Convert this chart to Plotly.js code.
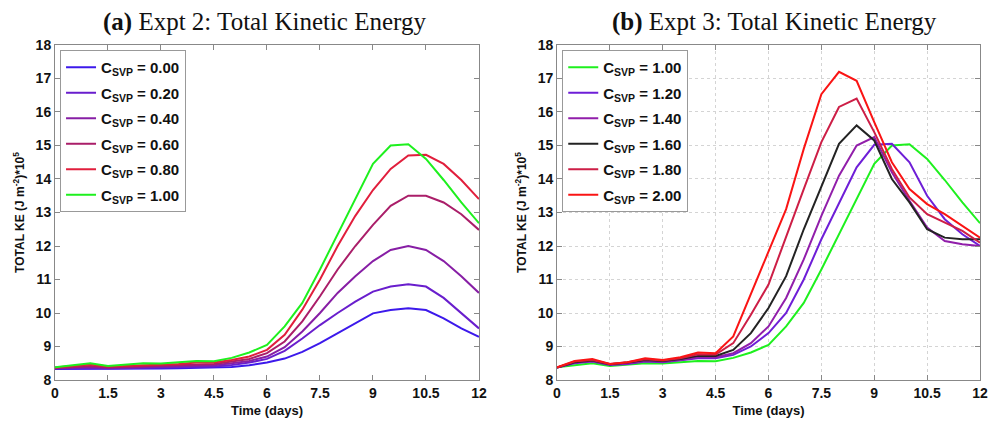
<!DOCTYPE html>
<html>
<head>
<meta charset="utf-8">
<script src="https://cdn.plot.ly/plotly-3.0.1.min.js"></script>
<style>html,body{margin:0;padding:0;background:#fff;}#chart{width:989px;height:422px;}</style>
</head>
<body>
<div id="chart"></div>
<script>
// time in days (every 0.5 day)
const timeDays = [0,0.5,1,1.5,2,2.5,3,3.5,4,4.5,5,5.5,6,6.5,7,7.5,8,8.5,9,9.5,10,10.5,11,11.5,12];
const xTickVals = [0,1.5,3,4.5,6,7.5,9,10.5,12];
const xTickText = ["0","1.5","3","4.5","6","7.5","9","10.5","12"];
const yTickVals = [8,9,10,11,12,13,14,15,16,17,18];

// Expt 2 (panel a)
const labelsA = ["0.00","0.20","0.40","0.60","0.80","1.00"];
const keA_000 = [8.33,8.33,8.34,8.32,8.33,8.33,8.34,8.35,8.36,8.37,8.39,8.44,8.52,8.64,8.84,9.1,9.4,9.69,9.99,10.09,10.14,10.09,9.84,9.54,9.29];
const keA_020 = [8.34,8.35,8.36,8.34,8.35,8.35,8.36,8.37,8.38,8.4,8.45,8.52,8.63,8.87,9.24,9.64,10.0,10.34,10.64,10.79,10.86,10.79,10.45,9.99,9.54];
const keA_040 = [8.35,8.37,8.39,8.36,8.37,8.38,8.39,8.4,8.42,8.44,8.5,8.57,8.7,8.98,9.45,10.0,10.6,11.1,11.55,11.88,12.0,11.88,11.55,11.1,10.6];
const keA_060 = [8.36,8.4,8.42,8.38,8.4,8.42,8.42,8.44,8.47,8.48,8.55,8.63,8.8,9.15,9.75,10.5,11.3,12.0,12.63,13.2,13.5,13.5,13.3,12.95,12.48];
const keA_080 = [8.37,8.42,8.46,8.4,8.42,8.45,8.45,8.48,8.52,8.52,8.6,8.7,8.9,9.35,10.1,11.0,12.0,12.9,13.67,14.3,14.7,14.72,14.45,13.97,13.4];
const keA_100 = [8.38,8.45,8.5,8.42,8.45,8.5,8.49,8.52,8.57,8.56,8.66,8.82,9.05,9.6,10.3,11.3,12.35,13.4,14.45,15.0,15.04,14.6,13.97,13.3,12.68];

// Expt 3 (panel b)
const labelsB = ["1.00","1.20","1.40","1.60","1.80","2.00"];
const keB_100 = keA_100;
const keB_120 = [8.37,8.5,8.55,8.45,8.48,8.55,8.53,8.58,8.65,8.65,8.75,9.0,9.4,10.0,11.0,12.2,13.3,14.35,15.02,15.05,14.5,13.5,12.8,12.35,12.0];
const keB_140 = [8.37,8.52,8.57,8.46,8.5,8.57,8.55,8.6,8.68,8.68,8.8,9.1,9.6,10.45,11.6,12.9,14.1,15.0,15.25,14.2,13.35,12.55,12.15,12.05,12.0];
const keB_160 = [8.37,8.53,8.58,8.47,8.52,8.6,8.57,8.63,8.72,8.72,8.9,9.4,10.15,11.1,12.5,13.8,15.05,15.6,15.15,14.0,13.3,12.5,12.25,12.2,12.2];
const keB_180 = [8.37,8.55,8.6,8.48,8.53,8.62,8.58,8.65,8.77,8.76,9.1,9.95,10.85,12.3,13.7,15.1,16.15,16.4,15.4,14.3,13.45,12.95,12.7,12.45,12.1];
const keB_200 = [8.38,8.57,8.63,8.48,8.53,8.65,8.6,8.68,8.82,8.8,9.3,10.55,11.85,13.1,14.9,16.53,17.2,16.93,15.7,14.5,13.7,13.25,12.95,12.6,12.25];

const colorsA = ["rgb(60,25,235)","rgb(105,30,205)","rgb(135,30,165)","rgb(170,30,105)","rgb(225,30,60)","rgb(30,240,30)"];
const colorsB = ["rgb(30,240,30)","rgb(110,30,215)","rgb(145,30,170)","rgb(35,35,35)","rgb(205,30,70)","rgb(250,20,20)"];

const seriesA = [keA_000,keA_020,keA_040,keA_060,keA_080,keA_100];
const seriesB = [keB_100,keB_120,keB_140,keB_160,keB_180,keB_200];

const traces = [];
seriesA.forEach((ys,i)=>traces.push({
  x: timeDays, y: ys, type:'scatter', mode:'lines', xaxis:'x', yaxis:'y',
  line:{color:colorsA[i], width:2}, name:'C<sub>SVP</sub> = '+labelsA[i], legend:'legend', legendgroup:'a'+i
}));
seriesB.forEach((ys,i)=>traces.push({
  x: timeDays, y: ys, type:'scatter', mode:'lines', xaxis:'x2', yaxis:'y2',
  line:{color:colorsB[i], width:2}, name:'C<sub>SVP</sub> = '+labelsB[i], legend:'legend2', legendgroup:'b'+i
}));

const tickFont = {family:'Liberation Sans, Arial, sans-serif', size:14, color:'#111', weight:'bold'};
const titleFont = {family:'Liberation Sans, Arial, sans-serif', size:13, color:'#111', weight:'bold'};

function xax(domain, grid){
  return {domain:domain, range:[0,12], tickvals:xTickVals, ticktext:xTickText, ticks:'inside', ticklen:5,
    tickcolor:'#888', showline:true, linecolor:'#888', mirror:'ticks', linewidth:1,
    showgrid:grid, gridcolor:'#d4d4d4', griddash:'dot', zeroline:false, tickfont:tickFont,
    title:{text:'Time (days)', font:titleFont, standoff:6}};
}
function yax(anchor, grid){
  return {domain:[0.0995,0.8934], range:[8,18], tickvals:yTickVals, ticks:'inside', ticklen:5,
    tickcolor:'#888', showline:true, linecolor:'#888', mirror:'ticks', linewidth:1, anchor:anchor,
    showgrid:grid, gridcolor:'#d4d4d4', griddash:'dot', zeroline:false, tickfont:tickFont,
    title:{text:'TOTAL KE (J m<sup>-2</sup>)*10<sup>5</sup>', font:{family:'Liberation Sans, Arial, sans-serif', size:12, color:'#111', weight:'bold'}, standoff:8}};
}

const legendCommon = {xanchor:'left', yanchor:'top', bgcolor:'#fff', bordercolor:'#999', borderwidth:1,
  font:{family:'Liberation Sans, Arial, sans-serif', size:15, color:'#111', weight:'bold'},
  traceorder:'grouped', tracegroupgap:3, itemwidth:30};

const layout = {
  width:989, height:422, margin:{l:0,r:0,t:0,b:0}, paper_bgcolor:'#fff', plot_bgcolor:'#fff',
  showlegend:true,
  xaxis: Object.assign(xax([0.0556,0.4843], false), {anchor:'y'}),
  yaxis: yax('x', false),
  xaxis2: Object.assign(xax([0.5632,0.9909], true), {anchor:'y2'}),
  yaxis2: yax('x2', true),
  legend: Object.assign({x:0.0607, y:0.8815}, legendCommon),
  legend2: Object.assign({x:0.5685, y:0.8815}, legendCommon),
  annotations:[
    {text:'<b>(a)</b> Expt 2: Total Kinetic Energy', xref:'paper', yref:'paper', x:264/989, y:1-22/422, xanchor:'center', yanchor:'middle', showarrow:false,
     font:{family:'Liberation Serif, Times New Roman, serif', size:25, color:'#111'}},
    {text:'<b>(b)</b> Expt 3: Total Kinetic Energy', xref:'paper', yref:'paper', x:774/989, y:1-22/422, xanchor:'center', yanchor:'middle', showarrow:false,
     font:{family:'Liberation Serif, Times New Roman, serif', size:25, color:'#111'}}
  ]
};

Plotly.newPlot('chart', traces, layout, {displayModeBar:false, staticPlot:true});
</script>
</body>
</html>
